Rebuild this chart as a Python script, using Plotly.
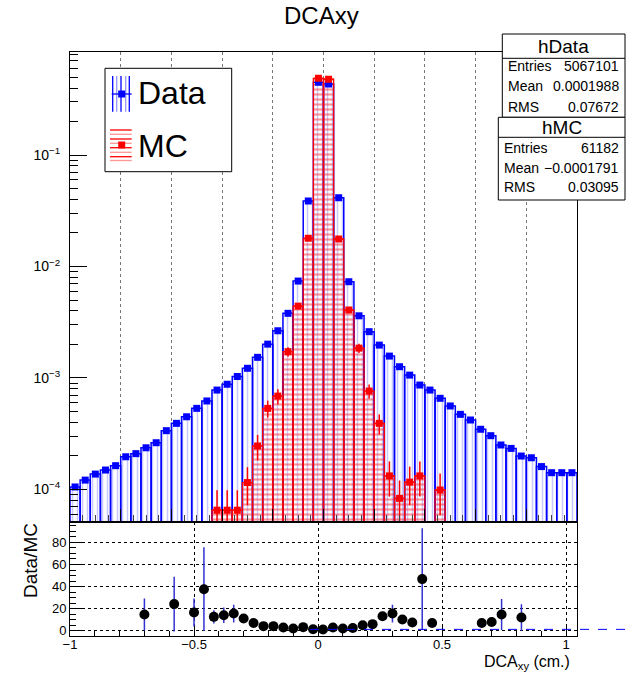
import plotly.graph_objects as go

# ---------------- data ----------------
bin_edges_lo = -1.0
bin_width = 0.04
n_bins = 50
bin_centers = [round(bin_edges_lo + bin_width * (i + 0.5), 4) for i in range(n_bins)]

data_vals = [1.05e-4, 1.21e-4, 1.37e-4, 1.49e-4, 1.63e-4, 1.96e-4, 2.09e-4, 2.36e-4, 2.62e-4, 3.36e-4,
             3.91e-4, 4.48e-4, 5.33e-4, 6.21e-4, 7.78e-4, 8.77e-4, 1.03e-3, 1.22e-3, 1.53e-3, 2.01e-3,
             2.65e-3, 3.80e-3, 7.4e-3, 0.0387, 0.45, 0.434, 0.0415, 7.3e-3, 3.61e-3, 2.60e-3,
             1.97e-3, 1.57e-3, 1.26e-3, 1.06e-3, 8.63e-4, 7.78e-4, 6.56e-4, 5.60e-4, 4.71e-4, 4.19e-4,
             3.46e-4, 3.03e-4, 2.50e-4, 2.33e-4, 1.99e-4, 1.92e-4, 1.60e-4, 1.41e-4, 1.41e-4, 1.41e-4]

mc_vals = [None] * 14 + [6.5e-5, 6.5e-5, 6.5e-5, 1.15e-4, 2.45e-4, 5.33e-4, 6.87e-4, 1.72e-3, 4.41e-3, 0.0179,
                         0.489, 0.48, 0.0177, 4.07e-3, 1.85e-3, 7.62e-4, 3.91e-4, 1.32e-4, 8.3e-5, 1.16e-4,
                         1.32e-4, None, 9.86e-5] + [None] * 13
mc_errs = [None] * 14 + [3.3e-5, 3.3e-5, 3.3e-5, 4.3e-5, 6.3e-5, 9.3e-5, 1.06e-4, 1.68e-4, 2.7e-4, 5.4e-4,
                         2.8e-3, 2.8e-3, 5.4e-4, 2.6e-4, 1.74e-4, 1.12e-4, 8.0e-5, 4.6e-5, 3.7e-5, 4.4e-5,
                         4.6e-5, None, 4.0e-5] + [None] * 13

ratio_x = [-0.70, -0.58, -0.50, -0.46, -0.42, -0.38, -0.34, -0.30, -0.26, -0.22, -0.18, -0.14, -0.10, -0.06,
           -0.02, 0.02, 0.06, 0.10, 0.14, 0.18, 0.22, 0.26, 0.30, 0.34, 0.38, 0.42, 0.46, 0.66, 0.70, 0.74, 0.82]
ratio_y = [14.8, 24.2, 16.6, 37.7, 12.7, 14.2, 15.7, 11.2, 7.2, 4.3, 4.3, 3.1, 2.2, 3.4,
           1.5, 1.2, 3.1, 2.2, 2.7, 5.1, 6.1, 13.3, 15.7, 10.3, 7.6, 46.8, 7.2, 7.2, 8.1, 14.8, 12.1]
ratio_err = [14.5, 24.7, 12.7, 37.8, 6.0, 7.0, 8.0, 4.0, 2.0, 1.0, 1.0, 0.8, 0.5, 0.8,
             0.3, 0.3, 0.6, 0.5, 0.6, 1.0, 1.5, 3.0, 8.0, 3.0, 2.5, 46.0, 4.0, 3.0, 4.0, 14.0, 12.0]

stats_data = [("Entries", "5067101"), ("Mean", "0.0001988"), ("RMS", "0.07672")]
stats_mc = [("Entries", "61182"), ("Mean", "\u22120.0001791"), ("RMS", "0.03095")]

y_tick_vals = [1e-4, 1e-3, 1e-2, 1e-1]
y_tick_text = ["10<sup>\u22124</sup>", "10<sup>\u22123</sup>", "10<sup>\u22122</sup>", "10<sup>\u22121</sup>"]

# ---------------- layout geometry ----------------
W, H = 626, 673
ML, MR, MT, MB = 70, 49, 52, 37
PW, PH = W - ML - MR, H - MT - MB
split = (H - MB - 522.3) / PH
FONT = "Liberation Sans, Arial, sans-serif"


def px(x):
    return (x - ML) / PW


def py(y):
    return (H - MB - y) / PH


fig = go.Figure()

half = [bin_width / 2] * n_bins

# Data histogram
fig.add_trace(go.Bar(
    x=bin_centers, y=data_vals, width=[bin_width] * n_bins,
    marker=dict(color="rgba(0,0,255,0.45)", line=dict(color="blue", width=1.5),
                pattern=dict(shape="|", fgcolor="rgba(70,70,255,0.6)", bgcolor="rgba(0,0,0,0)",
                             size=5, solidity=0.3)),
    xaxis="x", yaxis="y", showlegend=False, hoverinfo="skip"))
fig.add_trace(go.Scatter(
    x=bin_centers, y=data_vals, mode="markers",
    marker=dict(symbol="square", size=7, color="blue"),
    xaxis="x", yaxis="y", showlegend=False))

# MC histogram
fig.add_trace(go.Bar(
    x=bin_centers, y=mc_vals, width=[bin_width] * n_bins,
    marker=dict(color="red", line=dict(color="red", width=1.3),
                pattern=dict(shape="-", fgcolor="rgba(255,20,20,0.9)", bgcolor="rgba(0,0,0,0)",
                             size=5, solidity=0.42)),
    xaxis="x", yaxis="y", showlegend=False, hoverinfo="skip"))
fig.add_trace(go.Scatter(
    x=bin_centers, y=mc_vals, mode="markers",
    marker=dict(symbol="square", size=7, color="red"),
    error_y=dict(type="data", array=mc_errs, color="red", thickness=1.5, width=0),
    error_x=dict(type="data", array=half, color="red", thickness=1.2, width=0),
    xaxis="x", yaxis="y", showlegend=False))

# Ratio
fig.add_trace(go.Scatter(
    x=ratio_x, y=ratio_y, mode="markers",
    marker=dict(symbol="circle", size=10, color="black"),
    error_y=dict(type="data", array=ratio_err, color="rgb(50,50,210)", thickness=1.5, width=0),
    xaxis="x2", yaxis="y2", showlegend=False))

axis_common = dict(showline=True, linecolor="black", linewidth=1, mirror=True, zeroline=False,
                   tickcolor="black", ticks="inside")

fig.update_layout(
    width=W, height=H, margin=dict(l=ML, r=MR, t=MT, b=MB),
    paper_bgcolor="white", plot_bgcolor="white", barmode="overlay",
    font=dict(family=FONT, color="black"),
    xaxis=dict(domain=[0, 1], anchor="y", range=[-1, 1], tick0=-1, dtick=0.2, ticklen=13,
               showticklabels=False, showgrid=True, gridcolor="#777", griddash="dot", gridwidth=1,
               minor=dict(dtick=0.05, ticklen=7, ticks="inside", tickcolor="#444", showgrid=False),
               **axis_common),
    yaxis=dict(domain=[split, 1], anchor="x", type="log", range=[-4.296, -0.0746],
               tickmode="array", tickvals=y_tick_vals, ticktext=y_tick_text, ticklen=17,
               tickfont=dict(size=14), ticklabelstandoff=6, showgrid=False,
               minor=dict(tickmode="array",
                          tickvals=[k * 10 ** e for e in (-5, -4, -3, -2, -1) for k in range(2, 10)],
                          ticklen=8, ticks="inside", tickcolor="black", showgrid=False),
               **axis_common),
    xaxis2=dict(domain=[0, 1], anchor="y2", range=[-1, 1.044], tick0=-1, dtick=0.5, ticklen=10,
                tickfont=dict(size=13), ticklabelstandoff=-4,
                showgrid=True, gridcolor="black", griddash="dot", gridwidth=1,
                minor=dict(dtick=0.1, ticklen=5, ticks="inside", tickcolor="black", showgrid=False),
                **axis_common),
    yaxis2=dict(domain=[0, split], anchor="x2", range=[-4.6, 98.1], tick0=0, dtick=20, ticklen=12,
                tickfont=dict(size=13), showgrid=True, gridcolor="black", griddash="dot", gridwidth=1,
                minor=dict(dtick=5, ticklen=6, ticks="inside", tickcolor="black", showgrid=False),
                **axis_common),
)

shapes = []
annotations = []

# Horizontal reference line in the ratio panel
shapes.append(dict(type="line", xref="paper", yref="y2", x0=px(310), x1=px(626), y0=1.4, y1=1.4,
                   line=dict(color="blue", width=1, dash="dash")))

# Title
annotations.append(dict(text="DCAxy", xref="paper", yref="paper", x=px(321.7), y=py(15.5),
                        xanchor="center", yanchor="middle", showarrow=False, font=dict(size=24)))

# Axis titles
annotations.append(dict(text="Data/MC", xref="paper", yref="paper", x=px(30), y=py(561), textangle=-90,
                        xanchor="center", yanchor="middle", showarrow=False, font=dict(size=19)))
annotations.append(dict(text="DCA<sub>xy</sub> (cm.)", xref="paper", yref="paper", x=px(572), y=py(662),
                        xanchor="right", yanchor="middle", showarrow=False, font=dict(size=16)))

# Legend box
shapes.append(dict(type="rect", xref="paper", yref="paper", x0=px(105), x1=px(231.7), y0=py(68.3),
                   y1=py(171.7), line=dict(color="black", width=1), fillcolor="white", layer="above"))
for i, xx in enumerate([112.7, 116.7, 121.0, 125.7, 129.3]):
    shapes.append(dict(type="line", xref="paper", yref="paper", x0=px(xx), x1=px(xx), y0=py(76), y1=py(111.7),
                       line=dict(color="blue" if i % 2 == 0 else "rgba(80,80,255,0.6)", width=1.3)))
shapes.append(dict(type="line", xref="paper", yref="paper", x0=px(111.7), x1=px(131.7), y0=py(94), y1=py(94),
                   line=dict(color="blue", width=1.3)))
shapes.append(dict(type="rect", xref="paper", yref="paper", x0=px(118.2), x1=px(125.2), y0=py(90.5),
                   y1=py(97.5), line=dict(color="blue", width=0), fillcolor="blue"))
for i, yy in enumerate([130, 134.3, 139, 143.3, 147.7, 152.3, 156.7, 160.5]):
    shapes.append(dict(type="line", xref="paper", yref="paper", x0=px(110), x1=px(131.7), y0=py(yy), y1=py(yy),
                       line=dict(color="red" if i % 2 == 0 else "rgba(255,80,80,0.6)", width=1.3)))
shapes.append(dict(type="rect", xref="paper", yref="paper", x0=px(118.2), x1=px(125.2), y0=py(141.5),
                   y1=py(148.5), line=dict(color="red", width=0), fillcolor="red"))
annotations.append(dict(text="Data", xref="paper", yref="paper", x=px(136), y=py(93), xanchor="left",
                        yanchor="middle", showarrow=False, font=dict(size=32)))
annotations.append(dict(text="MC", xref="paper", yref="paper", x=px(136), y=py(146), xanchor="left",
                        yanchor="middle", showarrow=False, font=dict(size=32)))


# Stat boxes
def stat_box(x0, x1, y0, y_sep, y1, title, rows, row_ys):
    shapes.append(dict(type="rect", xref="paper", yref="paper", x0=px(x0), x1=px(x1), y0=py(y0), y1=py(y1),
                       line=dict(color="black", width=1), fillcolor="white", layer="above"))
    shapes.append(dict(type="line", xref="paper", yref="paper", x0=px(x0), x1=px(x1), y0=py(y_sep),
                       y1=py(y_sep), line=dict(color="black", width=1)))
    annotations.append(dict(text=title, xref="paper", yref="paper", x=px((x0 + x1) / 2),
                            y=py((y0 + y_sep) / 2), xanchor="center", yanchor="middle", showarrow=False,
                            font=dict(size=19)))
    for (lab, val), yy in zip(rows, row_ys):
        annotations.append(dict(text=lab, xref="paper", yref="paper", x=px(x0 + 4), y=py(yy), xanchor="left",
                                yanchor="middle", showarrow=False, font=dict(size=14)))
        annotations.append(dict(text=val, xref="paper", yref="paper", x=px(x1 - 4), y=py(yy), xanchor="right",
                                yanchor="middle", showarrow=False, font=dict(size=14)))


stat_box(502.3, 625, 34, 58.3, 117.3, "hData", stats_data, [65.5, 86, 107])
stat_box(498.3, 625, 117.3, 137.3, 200, "hMC", stats_mc, [148.3, 167.7, 187])

fig.update_layout(shapes=shapes, annotations=annotations)

fig.write_html("out.html")
